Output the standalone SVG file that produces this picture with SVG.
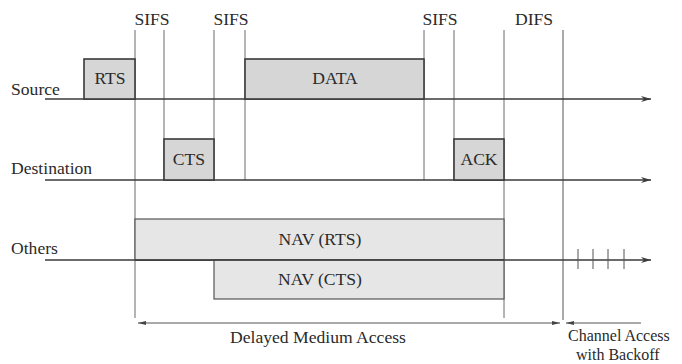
<svg xmlns="http://www.w3.org/2000/svg" width="682" height="364" viewBox="0 0 682 364">
<style>
text{font-family:"Liberation Serif","Times New Roman",serif;font-size:17.6px;fill:#2a2a2a}
.mid{text-anchor:middle}
.sm{font-size:16px}
.frame{fill:#d6d6d6;stroke:#3a3a3a;stroke-width:1.6}
.nav{fill:#e6e6e6;stroke:#555;stroke-width:1.2}
.v{stroke:#6a6a6a;stroke-width:1;fill:none}
.axis{stroke:#3a3a3a;stroke-width:1.4;fill:none}
.thin{stroke:#555;stroke-width:1;fill:none}
</style>
<defs>
<marker id="ah" viewBox="0 0 10 6" refX="10" refY="3" markerWidth="10" markerHeight="6" markerUnits="userSpaceOnUse" orient="auto">
<path d="M0,0 L10,3 L0,6 L3,3 Z" fill="#3a3a3a"/>
</marker>
<marker id="sa" viewBox="0 0 8 4" refX="8" refY="2" markerWidth="8" markerHeight="4" markerUnits="userSpaceOnUse" orient="auto-start-reverse">
<path d="M0,0 L8,2 L0,4 Z" fill="#444"/>
</marker>
</defs>
<rect width="682" height="364" fill="#fff"/>
<g id="connectors">
<line class="v" x1="135" y1="30" x2="135" y2="318"/>
<line class="v" x1="164" y1="30" x2="164" y2="180"/>
<line class="v" x1="214" y1="30" x2="214" y2="180"/>
<line class="v" x1="245" y1="30" x2="245" y2="180"/>
<line class="v" x1="424" y1="30" x2="424" y2="180"/>
<line class="v" x1="454" y1="30" x2="454" y2="180"/>
<line class="v" x1="504" y1="30" x2="504" y2="318"/>
<line x1="563" y1="30" x2="563" y2="320" stroke="#aaa" stroke-width="2"/>
<line class="axis" x1="45" y1="99" x2="651" y2="99" marker-end="url(#ah)"/>
<line class="axis" x1="45" y1="180" x2="651" y2="180" marker-end="url(#ah)"/>
<line class="axis" x1="45" y1="260" x2="651" y2="260" marker-end="url(#ah)"/>
<line class="thin" x1="578" y1="249" x2="578" y2="269"/>
<line class="thin" x1="593" y1="249" x2="593" y2="269"/>
<line class="thin" x1="608" y1="249" x2="608" y2="269"/>
<line class="thin" x1="624" y1="249" x2="624" y2="269"/>
<line class="thin" x1="138" y1="323" x2="560" y2="323" marker-start="url(#sa)" marker-end="url(#sa)"/>
<line class="thin" x1="566" y1="323" x2="641" y2="323" marker-start="url(#sa)"/>
</g>
<g id="labels">
<text x="11" y="95">Source</text>
<text x="11" y="174">Destination</text>
<text x="11" y="254">Others</text>
<text class="mid" x="152" y="25">SIFS</text>
<text class="mid" x="231" y="25">SIFS</text>
<text class="mid" x="440" y="25">SIFS</text>
<text class="mid" x="534" y="25">DIFS</text>
</g>
<g id="rts"><rect class="frame" x="84" y="59" width="51" height="40"/><text class="mid" x="110" y="84">RTS</text></g>
<g id="data"><rect class="frame" x="245" y="59" width="179" height="40"/><text class="mid" x="335" y="84">DATA</text></g>
<g id="cts"><rect class="frame" x="164" y="139" width="50" height="41"/><text class="mid" x="189" y="165">CTS</text></g>
<g id="ack"><rect class="frame" x="454" y="139" width="50" height="41"/><text class="mid" x="479" y="165">ACK</text></g>
<g id="nav-rts"><rect class="nav" x="135" y="219" width="369" height="41"/><text class="mid" x="320" y="245">NAV (RTS)</text></g>
<g id="nav-cts"><rect class="nav" x="214" y="260" width="290" height="39"/><text class="mid" x="320" y="285">NAV (CTS)</text></g>
<line class="axis" x1="135" y1="260" x2="504" y2="260"/>
<g id="access">
<text x="230" y="343">Delayed Medium Access</text>
<text class="sm" x="568" y="341">Channel Access</text>
<text class="sm" x="576" y="360">with Backoff</text>
</g>
</svg>
